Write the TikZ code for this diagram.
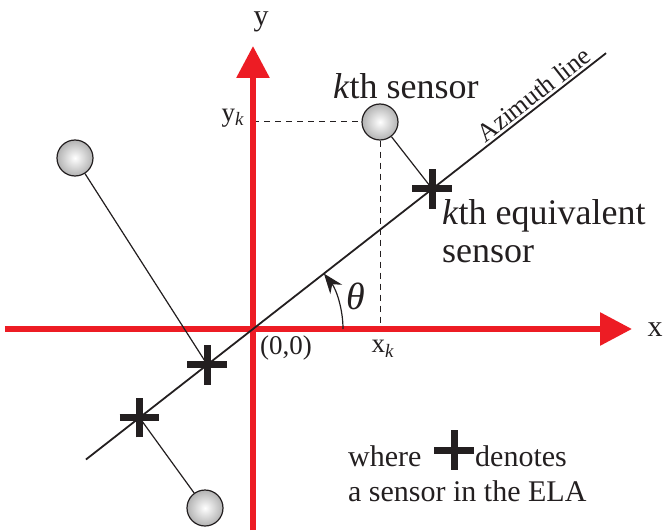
\documentclass[tikz,border=0pt]{standalone}
\usepackage{fontspec}
\setmainfont{Liberation Serif}
\usetikzlibrary{positioning,arrows.meta,shapes.misc,calc}
\definecolor{AxisRed}{RGB}{237,28,36}
\definecolor{InkBlack}{RGB}{35,31,32}

\begin{document}
\begin{tikzpicture}[x=1pt, y=1pt,
    axis/.style={draw=AxisRed, line width=6pt, -{Triangle[length=32pt, width=32pt]}},
    sensor/.style={circle, draw=InkBlack, line width=1.2pt, minimum size=36pt, inner sep=0pt,
                   inner color=white, outer color=gray!60},
    eqsensor/.style={cross out, draw=InkBlack, line width=7pt, minimum size=21pt, inner sep=0pt, rotate=45},
    lbl/.style={font=\fontsize{30}{33}\selectfont, text=InkBlack, inner sep=0pt},
    big/.style={font=\fontsize{36}{38}\selectfont, text=InkBlack, inner sep=0pt},
    sm/.style={font=\fontsize{27}{30}\selectfont, text=InkBlack, inner sep=0pt},
    link/.style={draw=InkBlack, line width=1.2pt},
    guide/.style={draw=InkBlack, line width=1pt, dash pattern=on 6pt off 5pt}
]
    \useasboundingbox (-253,-201) rectangle (410,329);

    % axes and azimuth line
    \coordinate (o) at (0,0);
    \coordinate (xl) at (-248,0);
    \coordinate (xr) at (379,0);
    \coordinate (yb) at (0,-201);
    \coordinate (yt) at (0,283);
    \coordinate (az0) at (218:212);
    \coordinate (az1) at (38:448);

    % sensors
    \node[sensor] (s1) at (127,207) {};
    \node[sensor] (s2) at (-178,171) {};
    \node[sensor] (s3) at (-48,-179) {};
    \coordinate (p1) at ($(az0)!(s1)!(az1)$);
    \coordinate (p2) at (218:58);
    \coordinate (p3) at (218:144);

    % projections of the kth sensor
    \coordinate (yk) at (0,207);
    \coordinate (xk) at (127,0);
    \draw[guide] (yk) -- (s1);
    \draw[guide] (s1) -- (xk);

    \draw[axis] (xl) -- (xr);
    \draw[axis] (yb) -- (yt);
    \draw[InkBlack, line width=1.8pt] (az0) -- (az1)
        node[pos=0.875, sloped, above=2pt, sm, font=\fontsize{26}{28}\selectfont] (azl) {Azimuth line};

    \draw[link] (s1) -- (p1);
    \draw[link] (s2) -- (p2);
    \draw[link] (s3) -- (p3);
    \node[eqsensor] (e1) at (p1) {};
    \node[eqsensor] (e2) at (p2) {};
    \node[eqsensor] (e3) at (p3) {};

    % angle
    \coordinate (a0) at (90,0);
    \draw[InkBlack, line width=1.2pt, -{Stealth[length=20pt, width=15pt]}] (a0) arc[start angle=0, end angle=38, radius=90];
    \node[lbl, font=\fontsize{38}{40}\selectfont\itshape] (th) at (103,33) {θ};

    % labels
    \node[lbl] (xlab) at (402,-1) {x};
    \node[lbl] (ylab) at (8,307) {y};
    \node[sm] (yklab) at (-20,211) {y\textsubscript{\textit{k}}};
    \node[sm] (xklab) at (130,-20) {x\textsubscript{\textit{k}}};
    \node[sm] (orig) at (33,-19) {(0,0)};
    \node[big, anchor=base west] (kth) at (80,230) {\textit{k}th sensor};
    \node[big, anchor=base west] (keq) at (189,104) {\textit{k}th equivalent};
    \node[big, anchor=base west] (keq2) at (189,67) {sensor};

    % legend
    \node[lbl, anchor=base west] (where) at (95,-137) {where};
    \node[eqsensor] (legx) at (201,-121) {};
    \node[lbl, anchor=base west] (den) at (222,-137) {denotes};
    \node[lbl, anchor=base west] (ela) at (95,-172) {a sensor in the ELA};
\end{tikzpicture}
\end{document}
